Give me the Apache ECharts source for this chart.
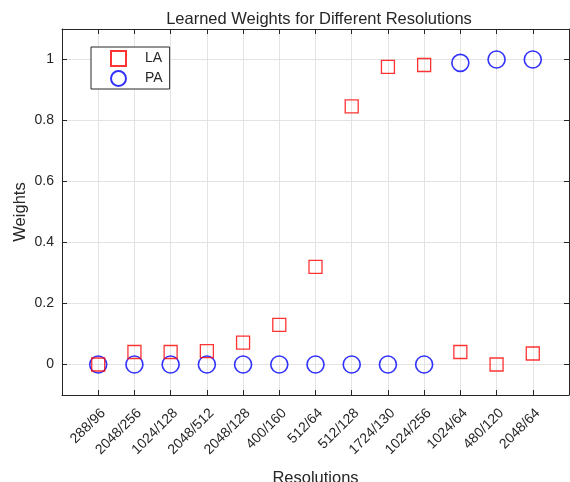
<!DOCTYPE html>
<html>
<head>
<meta charset="utf-8">
<script src="https://cdn.jsdelivr.net/npm/echarts@6/dist/echarts.min.js"></script>
<style>
  html, body { margin: 0; padding: 0; background: #fff; }
  #chart { width: 570px; height: 482px; }
</style>
</head>
<body>
<div id="chart"></div>
<script>
// data
const resolutions = ['288/96', '2048/256', '1024/128', '2048/512', '2048/128', '400/160',
  '512/64', '512/128', '1724/130', '1024/256', '1024/64', '480/120', '2048/64']
const laWeights = [0, 0.041, 0.041, 0.044, 0.072, 0.13, 0.32, 0.846, 0.976, 0.982, 0.041, 0, 0.036]
const paWeights = [0, 0, 0, 0, 0, 0, 0, 0, 0, 0, 0.989, 1, 1]
const yTicks = [0, 0.2, 0.4, 0.6, 0.8, 1]

const toPoints = arr => arr.map((v, i) => [i + 1, v])
const ink = '#262626'
const font = 'Liberation Sans, Arial, sans-serif'

const chart = echarts.init(document.getElementById('chart'))
const option = {
  backgroundColor: '#fff',
  animation: false,
  title: {
    text: 'Learned Weights for Different Resolutions',
    left: 314, top: 6, textAlign: 'center',
    textStyle: { fontFamily: font, fontSize: 16.5, fontWeight: 'normal', color: ink }
  },
  legend: {
    orient: 'vertical', left: 91, top: 47,
    padding: [3, 7, 2, 19],
    itemGap: 3, itemWidth: 15, itemHeight: 15,
    backgroundColor: '#fff', borderColor: ink, borderWidth: 1,
    textStyle: { fontFamily: font, fontSize: 14, color: ink, padding: [0, 0, 0, 14] },
    data: ['LA', 'PA']
  },
  grid: { left: 62, right: 1, top: 29, bottom: 87, outerBoundsMode: 'none' },
  xAxis: [{
    type: 'value', min: 0, max: 14, interval: 1,
    name: 'Resolutions', nameLocation: 'middle', nameGap: 75, nameMoveOverlap: false,
    nameTextStyle: { fontFamily: font, fontSize: 16.5, color: ink, verticalAlign: 'top' },
    axisLine: { onZero: false, lineStyle: { color: ink } },
    axisTick: { inside: true, length: 5, lineStyle: { color: ink } },
    splitLine: { show: true, lineStyle: { color: '#e3e3e3' } },
    axisLabel: {
      rotate: 45, fontFamily: font, fontSize: 14, color: ink, margin: 11,
      verticalAlign: 'top',
      formatter: v => resolutions[v - 1] || ''
    }
  }, {
    type: 'value', min: 0, max: 14, interval: 1, position: 'top',
    axisLine: { show: true, onZero: false, lineStyle: { color: ink } },
    axisTick: { inside: true, length: 5, lineStyle: { color: ink } },
    splitLine: { show: false }, axisLabel: { show: false }
  }],
  yAxis: [{
    type: 'value', min: -0.1, max: 1.1,
    name: 'Weights', nameLocation: 'middle', nameGap: 33, nameMoveOverlap: false,
    nameTextStyle: { fontFamily: font, fontSize: 16.5, color: ink },
    axisLine: { show: true, onZero: false, lineStyle: { color: ink } },
    axisTick: { inside: true, length: 5, lineStyle: { color: ink }, customValues: yTicks },
    splitLine: { show: true, lineStyle: { color: '#e3e3e3' } },
    axisLabel: { fontFamily: font, fontSize: 14, color: ink, margin: 8, customValues: yTicks,
      formatter: v => String(Math.round(v * 10) / 10) }
  }, {
    type: 'value', min: -0.1, max: 1.1, position: 'right',
    axisLine: { show: true, onZero: false, lineStyle: { color: ink } },
    axisTick: { inside: true, length: 5, lineStyle: { color: ink }, customValues: yTicks },
    splitLine: { show: false }, axisLabel: { show: false }
  }],
  series: [{
    name: 'LA', type: 'scatter', symbol: 'rect', symbolSize: 13,
    itemStyle: { color: 'rgba(0,0,0,0)', borderColor: '#ff0000', borderWidth: 1.3 },
    data: toPoints(laWeights), z: 3
  }, {
    name: 'PA', type: 'scatter', symbol: 'circle', symbolSize: 17,
    itemStyle: { color: 'rgba(0,0,0,0)', borderColor: '#0000ff', borderWidth: 1.6 },
    data: toPoints(paWeights), z: 2
  }]
}
chart.setOption(option)
</script>
</body>
</html>
